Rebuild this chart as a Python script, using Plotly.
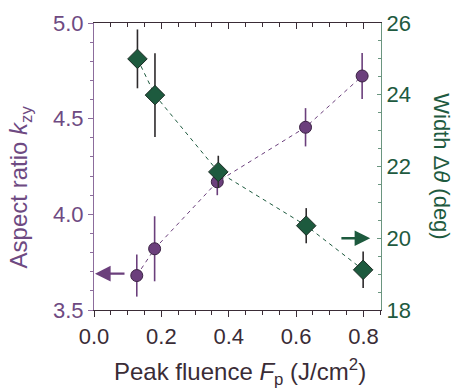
import plotly.graph_objects as go

# Data
fluence_k = [0.127, 0.180, 0.366, 0.628, 0.796]
aspect_k = [3.68, 3.82, 4.17, 4.455, 4.723]
aspect_err = [0.11, 0.17, 0.07, 0.10, 0.12]

fluence_w = [0.129, 0.181, 0.369, 0.630, 0.799]
width_w = [25.0, 23.99, 21.85, 20.35, 19.12]
width_err = [0.82, 1.17, 0.45, 0.49, 0.51]

x_ticks = [0.0, 0.2, 0.4, 0.6, 0.8]
x_ticklabels = ["0.0", "0.2", "0.4", "0.6", "0.8"]
yl_ticks = [3.5, 4.0, 4.5, 5.0]
yl_ticklabels = ["3.5", "4.0", "4.5", "5.0"]
yr_ticks = [18, 20, 22, 24, 26]
yr_ticklabels = ["18", "20", "22", "24", "26"]

PURPLE = "#6b3f7c"
PURPLE_TXT = "#6e4a82"
PURPLE_AX = "#8c6c9c"
GREEN = "#1d5a3e"
GREEN_TXT = "#1e5a40"
GREEN_AX = "#6a957f"
DARK = "#3a2c36"
FONT = "Liberation Sans, Arial, sans-serif"

fig = go.Figure()

fig.add_trace(go.Scatter(
    x=fluence_k, y=aspect_k, mode="lines+markers",
    line=dict(color=PURPLE, width=1, dash="4px,4px"),
    marker=dict(symbol="circle", size=12, color=PURPLE,
                line=dict(color="#3b2244", width=1)),
    error_y=dict(type="data", array=aspect_err, color=PURPLE, thickness=1.6, width=0),
    xaxis="x", yaxis="y", showlegend=False))

fig.add_trace(go.Scatter(
    x=fluence_w, y=width_w, mode="lines+markers",
    line=dict(color=GREEN, width=1, dash="4px,4px"),
    marker=dict(symbol="diamond", size=15, color=GREEN,
                line=dict(color="#1a2a22", width=1)),
    error_y=dict(type="data", array=width_err, color="#2d2a2c", thickness=1.6, width=0),
    xaxis="x", yaxis="y2", showlegend=False))

# invisible trace for top axis
fig.add_trace(go.Scatter(x=[0.0], y=[3.5], mode="markers", marker=dict(opacity=0),
                         xaxis="x2", yaxis="y", showlegend=False, hoverinfo="skip"))

fig.update_layout(
    width=456, height=390,
    margin=dict(l=94, r=75, t=23, b=80),
    paper_bgcolor="white", plot_bgcolor="white",
    font=dict(family=FONT, size=22, color=DARK),
    xaxis=dict(range=[0, 0.852], tickvals=x_ticks, ticktext=x_ticklabels,
               ticks="outside", ticklen=6, tickwidth=1, tickcolor=DARK,
               minor=dict(dtick=0.05, tick0=0, ticks="outside", ticklen=4, tickcolor=DARK),
               showline=True, linecolor=DARK, linewidth=1.2, showgrid=False, zeroline=False,
               tickfont=dict(size=22, color=DARK)),
    xaxis2=dict(range=[0, 0.852], overlaying="x", side="top", anchor="y",
                tickvals=x_ticks, showticklabels=False,
                ticks="inside", ticklen=6, tickcolor=DARK,
                minor=dict(dtick=0.05, tick0=0, ticks="inside", ticklen=4, tickcolor=DARK),
                showline=True, linecolor=DARK, linewidth=1.2, showgrid=False, zeroline=False),
    yaxis=dict(range=[3.5, 5.0], tickvals=yl_ticks, ticktext=yl_ticklabels,
               ticks="outside", ticklen=5, tickcolor=PURPLE_AX,
               minor=dict(dtick=0.1, tick0=3.5, ticks="outside", ticklen=3, tickcolor=PURPLE_AX),
               showline=True, linecolor=PURPLE_AX, linewidth=1.2, showgrid=False, zeroline=False,
               tickfont=dict(size=22, color=PURPLE_TXT)),
    yaxis2=dict(range=[18, 26], tickvals=yr_ticks, ticktext=yr_ticklabels,
                overlaying="y", side="right", anchor="x",
                ticks="inside", ticklen=4, tickcolor=GREEN_AX,
                minor=dict(dtick=0.5, tick0=18, ticks="inside", ticklen=3, tickcolor=GREEN_AX),
                showline=True, linecolor=GREEN_AX, linewidth=1.2, showgrid=False, zeroline=False,
                tickfont=dict(size=22, color=GREEN_TXT)),
)

# arrows
fig.add_annotation(x=0.003, y=3.69, ax=0.095, ay=3.69, xref="x", yref="y",
                   axref="x", ayref="y", showarrow=True, arrowhead=2, arrowsize=1.3,
                   arrowwidth=2.4, arrowcolor=PURPLE, text="")
fig.add_annotation(x=0.82, y=20.0, ax=0.73, ay=20.0, xref="x", yref="y2",
                   axref="x", ayref="y2", showarrow=True, arrowhead=2, arrowsize=1.3,
                   arrowwidth=2.4, arrowcolor=GREEN, text="")

# titles
fig.add_annotation(text="Aspect ratio <i>k</i><sub>zy</sub>", xref="paper", yref="paper",
                   x=-0.255, y=0.43, xanchor="center", yanchor="middle", textangle=-90,
                   showarrow=False, font=dict(size=24, color=PURPLE_TXT, family=FONT))
fig.add_annotation(text="Width Δ<i>θ</i> (deg)", xref="paper", yref="paper",
                   x=1.21, y=0.50, xanchor="center", yanchor="middle", textangle=90,
                   showarrow=False, font=dict(size=22, color=GREEN_TXT, family=FONT))
fig.add_annotation(text="Peak fluence <i>F</i><sub>p</sub> (J/cm<sup>2</sup>)", xref="paper", yref="paper",
                   x=0.51, y=-0.215, xanchor="center", yanchor="middle",
                   showarrow=False, font=dict(size=24, color=DARK, family=FONT))

fig.write_html("out.html")
